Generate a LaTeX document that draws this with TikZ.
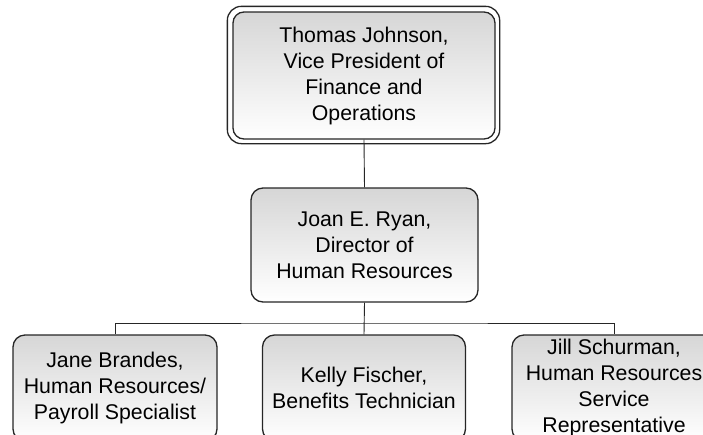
\documentclass[tikz,border=0pt]{standalone}
\usepackage{fontspec}
\setmainfont{Liberation Sans}
\begin{document}
\begin{tikzpicture}[x=1pt,y=-1pt,
  box/.style={draw=black!85, line width=1.3pt, rounded corners=12pt,
    top color=black!16, bottom color=white, align=center,
    font=\fontsize{21.3}{26}\selectfont, inner sep=0pt},
  conn/.style={draw=black!85, line width=0.9pt}]
\useasboundingbox (0,0) rectangle (703,434);
\begin{scope}
\clip (0,0) rectangle (703,434);
\node[box, minimum width=262pt, minimum height=127pt, rounded corners=11pt] (vp) at (364,75.5)
  {Thomas Johnson,\\Vice President of\\Finance and\\Operations};
\draw[draw=black!85, line width=1.3pt, rounded corners=14pt]
  ([shift={(-5pt,5pt)}]vp.north west) rectangle ([shift={(4pt,-4pt)}]vp.south east);
\node[box, minimum width=227pt, minimum height=114pt] (dir) at (364.5,245)
  {Joan E. Ryan,\\Director of\\Human Resources};
\node[box, minimum width=204pt, minimum height=106pt] (jane) at (115,388)
  {Jane Brandes,\\Human Resources/\\Payroll Specialist};
\node[box, minimum width=203pt, minimum height=106pt] (kelly) at (364,388)
  {Kelly Fischer,\\Benefits Technician};
\node[box, minimum width=204pt, minimum height=106pt] (jill) at (614,388)
  {Jill Schurman,\\Human Resources\\Service\\Representative};
\coordinate (bus) at (364,323);
\draw[conn] (vp.south) -- (dir.north);
\draw[conn] (dir.south) -- (kelly.north);
\draw[conn] (jane.north) |- (bus) -| (jill.north);
\end{scope}
\end{tikzpicture}
\end{document}
